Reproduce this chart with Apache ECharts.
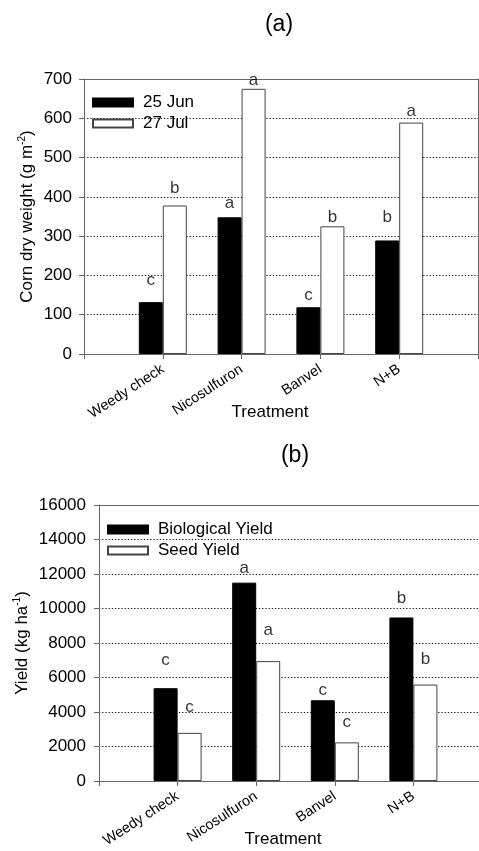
<!DOCTYPE html>
<html>
<head>
<meta charset="utf-8">
<script src="https://cdn.jsdelivr.net/npm/echarts@6/dist/echarts.min.js"></script>
<style>
html,body{margin:0;padding:0;background:#fff;overflow:hidden;}
#c{width:479px;height:851px;}
</style>
</head>
<body>
<div id="c"></div>
<script>
// ---- data ----
const categories = ['Weedy check', 'Nicosulfuron', 'Banvel', 'N+B'];
// chart (a)
const jun25 = [132, 348, 119, 289];
const jul27 = [378, 675, 325, 589];
const jun25Letters = ['c', 'a', 'c', 'b'];
const jul27Letters = ['b', 'a', 'b', 'a'];
const jun25LetterY = [188, 384, 150, 347];
const jul27LetterY = [423, 697, 347, 617];
// chart (b)
const bioYield = [5380, 11500, 4680, 9480];
const seedYield = [2790, 6950, 2240, 5590];
const bioLetters = ['c', 'a', 'c', 'b'];
const seedLetters = ['c', 'a', 'c', 'b'];
const bioLetterY = [7000, 12320, 5260, 10580];
const seedLetterY = [4300, 8740, 3420, 7040];

const FONT = 'Liberation Sans, Arial, sans-serif';
const AXIS_COLOR = '#666';
const xData = [''].concat(categories).concat(['']);

function toPairs(arr) { return arr.map((v, i) => [i + 1, v]); }

function xAxisBottom(gridIndex, padRight) {
  return {
    type: 'category', gridIndex: gridIndex, data: xData, boundaryGap: false,
    axisLine: { show: true, lineStyle: { color: AXIS_COLOR, width: 1 } },
    axisTick: { show: true, interval: 0, length: 5, lineStyle: { color: AXIS_COLOR } },
    axisLabel: { interval: 0, rotate: 33, fontSize: 14.5, fontFamily: FONT, color: '#000', margin: 14 },
    splitLine: { show: false },
    name: 'Treatment', nameLocation: 'middle', nameGap: 50, nameMoveOverlap: false,
    nameTextStyle: { fontSize: 17, fontFamily: FONT, color: '#000', padding: [0, padRight, 0, 0] }
  };
}
function borderAxis(gridIndex, position) {
  return {
    type: 'value', gridIndex: gridIndex, position: position, min: 0, max: 1,
    axisLine: { show: true, onZero: false, lineStyle: { color: AXIS_COLOR, width: 1 } },
    axisTick: { show: false }, axisLabel: { show: false }, splitLine: { show: false }
  };
}
function yAxisMain(gridIndex, max, interval, nameText, nameGap, margin) {
  return {
    type: 'value', gridIndex: gridIndex, min: 0, max: max, interval: interval,
    axisLine: { show: true, lineStyle: { color: AXIS_COLOR, width: 1 } },
    axisTick: { show: true, length: 5, lineStyle: { color: AXIS_COLOR } },
    axisLabel: { fontSize: 17, fontFamily: FONT, color: '#000', margin: margin, formatter: v => String(v) },
    splitLine: { show: true, showMinLine: false, showMaxLine: false, lineStyle: { type: [1.2, 2], color: '#000', width: 1 } },
    name: nameText, nameLocation: 'middle', nameGap: nameGap, nameMoveOverlap: false,
    nameTextStyle: {
      fontFamily: FONT, color: '#000',
      rich: {
        t: { fontSize: 17, fontFamily: FONT, color: '#000', lineHeight: 20 },
        s: { fontSize: 10, fontFamily: FONT, color: '#000', lineHeight: 12, verticalAlign: 'top' }
      }
    }
  };
}
function barSeries(name, data, xi, yi, fill, border) {
  return {
    type: 'bar', name: name, xAxisIndex: xi, yAxisIndex: yi, data: toPairs(data),
    barWidth: 24, barGap: '0%',
    itemStyle: { color: fill, borderColor: border, borderWidth: 1 }
  };
}
function letterSeries(ys, letters, xi, yi, dx) {
  return {
    type: 'scatter', xAxisIndex: xi, yAxisIndex: yi, data: toPairs(ys),
    symbolSize: 1, itemStyle: { color: 'rgba(0,0,0,0)' }, silent: true,
    label: {
      show: true, position: 'inside', offset: [dx, 0],
      formatter: p => letters[p.dataIndex],
      fontSize: 17, fontFamily: FONT, color: '#000'
    }
  };
}

const chart = echarts.init(document.getElementById('c'), null, { renderer: 'canvas' });
chart.setOption({
  animation: false,
  backgroundColor: '#fff',
  grid: [
    { left: 84, top: 79, width: 394, height: 275, containLabel: false, outerBoundsMode: 'none' },
    { left: 99, top: 505, width: 393, height: 276, containLabel: false, outerBoundsMode: 'none' }
  ],
  xAxis: [
    xAxisBottom(0, 22),
    xAxisBottom(1, 25),
    borderAxis(0, 'top'),
    borderAxis(1, 'top')
  ],
  yAxis: [
    yAxisMain(0, 700, 100, '{t|Corn dry weight (g m}{s|-2}{t|)}', 47, 12),
    yAxisMain(1, 16000, 2000, '{t|Yield (kg ha}{s|-1}{t|)}', 67, 13),
    borderAxis(0, 'right')
  ],
  legend: [
    {
      data: ['25 Jun', '27 Jul'], orient: 'vertical', left: 92, top: 94, padding: 0,
      itemWidth: 40, itemHeight: 8, itemGap: 4, icon: 'rect',
      textStyle: { fontSize: 17, fontFamily: FONT, color: '#000', lineHeight: 17, padding: [0, 0, 0, 5] }
    },
    {
      data: ['Biological Yield', 'Seed Yield'], orient: 'vertical', left: 107, top: 521, padding: 0,
      itemWidth: 40, itemHeight: 8, itemGap: 4, icon: 'rect',
      textStyle: { fontSize: 17, fontFamily: FONT, color: '#000', lineHeight: 17, padding: [0, 0, 0, 5] }
    }
  ],
  graphic: [
    { type: 'text', x: 279, y: 25, style: { text: '(a)', fontSize: 23, fontFamily: FONT, fill: '#000', align: 'center', verticalAlign: 'middle' } },
    { type: 'text', x: 295, y: 456, style: { text: '(b)', fontSize: 23, fontFamily: FONT, fill: '#000', align: 'center', verticalAlign: 'middle' } }
  ],
  series: [
    barSeries('25 Jun', jun25, 0, 0, '#000', '#000'),
    barSeries('27 Jul', jul27, 0, 0, '#fff', '#444'),
    letterSeries(jun25LetterY, jun25Letters, 0, 0, -12),
    letterSeries(jul27LetterY, jul27Letters, 0, 0, 12),
    barSeries('Biological Yield', bioYield, 1, 1, '#000', '#000'),
    barSeries('Seed Yield', seedYield, 1, 1, '#fff', '#444'),
    letterSeries(bioLetterY, bioLetters, 1, 1, -12),
    letterSeries(seedLetterY, seedLetters, 1, 1, 12)
  ]
});
</script>
</body>
</html>
